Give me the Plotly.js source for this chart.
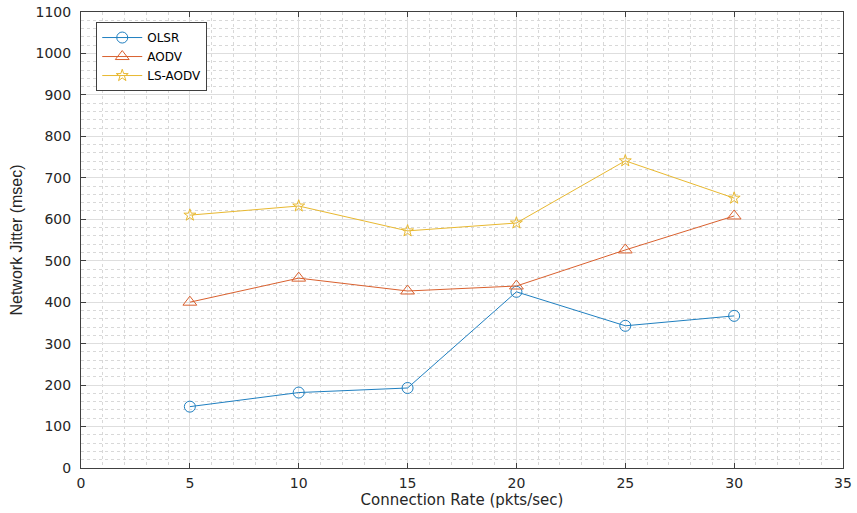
<!DOCTYPE html>
<html><head><meta charset="utf-8">
<script src="https://cdn.plot.ly/plotly-3.0.1.min.js"></script>
<style>html,body{margin:0;padding:0;background:#fff}#chart{width:857px;height:513px}</style>
</head><body><div id="chart"></div>
<script>
const rates = [5, 10, 15, 20, 25, 30];
const olsr = [148, 182, 193, 425, 343, 367];
const aodv = [400, 458, 427, 439, 526, 608];
const lsaodv = [610, 632, 572, 591, 741, 651];
const seriesNames = ['OLSR', 'AODV', 'LS-AODV'];

const colors = ['#1f7fc0', '#d9602e', '#e8b830'];
const symbols = ['circle-open', 'triangle-up-open', 'star-open'];
const sizes = [11, 12, 9];
const data = [olsr, aodv, lsaodv].map((ys, i) => ({
  x: rates, y: ys, name: seriesNames[i], type: 'scatter', mode: 'lines+markers',
  line: {color: colors[i], width: 1},
  marker: {symbol: symbols[i], size: sizes[i], color: colors[i], line: {width: 1, color: colors[i]}}
}));

const axisCommon = {
  showline: true, mirror: 'ticks', linecolor: '#404040', linewidth: 1,
  ticks: 'inside', ticklen: 5, tickcolor: '#404040',
  showgrid: true, gridcolor: '#dedede', gridwidth: 1, zeroline: false,
  tickfont: {family: 'DejaVu Sans, sans-serif', size: 14, color: '#262626'},
};
const minorGrid = {showgrid: true, gridcolor: '#d8d8d8', griddash: 'dot', gridwidth: 1, ticks: ''};
const layout = {
  width: 857, height: 513,
  margin: {l: 81, r: 14, t: 12, b: 45},
  paper_bgcolor: '#fff', plot_bgcolor: '#fff',
  font: {family: 'DejaVu Sans, sans-serif', color: '#262626'},
  xaxis: Object.assign({}, axisCommon, {
    range: [0, 35], dtick: 5, tick0: 0, ticklabelstandoff: 2,
    minor: Object.assign({dtick: 1}, minorGrid),
    title: {text: 'Connection Rate (pkts/sec)', font: {family: 'DejaVu Sans, sans-serif', size: 15, color: '#262626'}, standoff: 2}
  }),
  yaxis: Object.assign({}, axisCommon, {
    range: [0, 1100], dtick: 100, tick0: 0, ticklabelstandoff: 6,
    minor: Object.assign({dtick: 20}, minorGrid),
    title: {text: 'Network Jitter (msec)', font: {family: 'Liberation Sans, Arial, sans-serif', size: 16, color: '#262626'}, standoff: 8}
  }),
  legend: {
    x: 0.02, y: 0.978, xanchor: 'left', yanchor: 'top',
    bgcolor: '#fff', bordercolor: '#404040', borderwidth: 1,
    font: {family: 'DejaVu Sans, sans-serif', size: 12, color: '#000'}, tracegroupgap: 0, itemwidth: 40
  },
  showlegend: true
};
Plotly.newPlot('chart', data, layout, {displayModeBar: false, staticPlot: true});
</script></body></html>
